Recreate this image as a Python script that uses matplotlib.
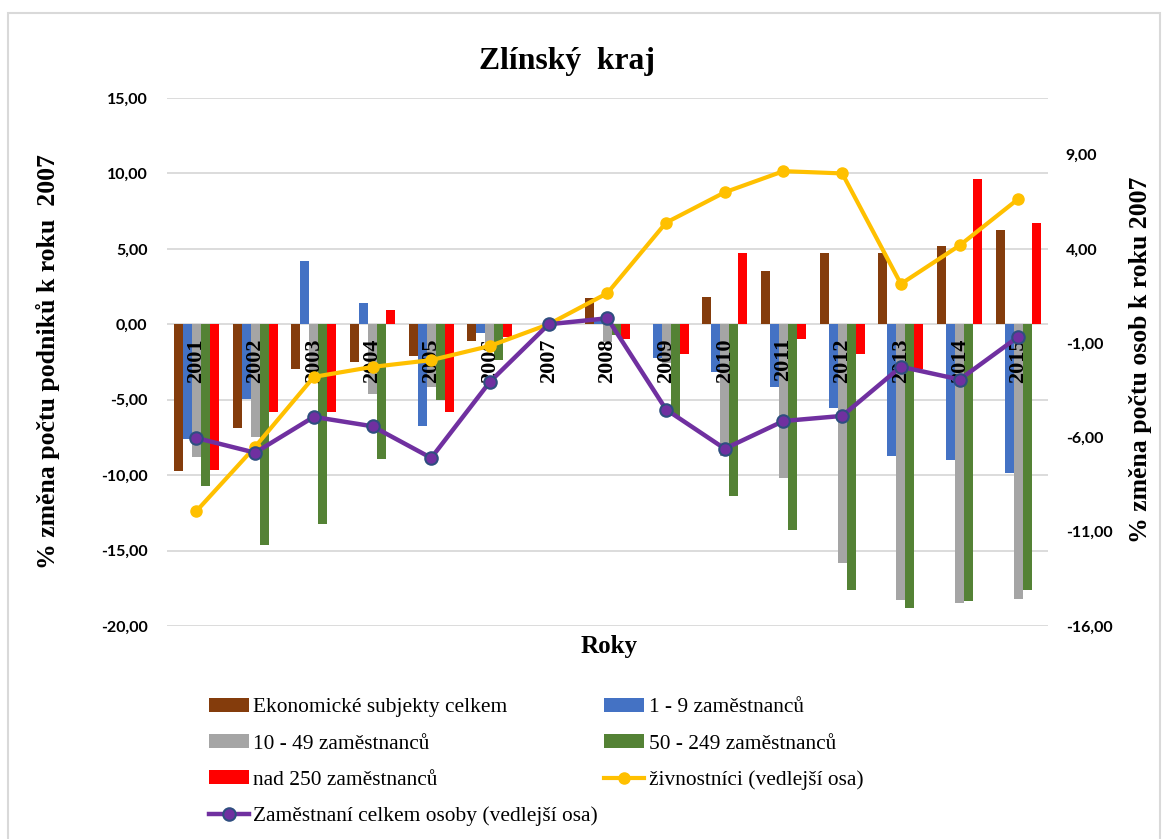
import numpy as np
import matplotlib.pyplot as plt
from matplotlib.patches import Rectangle
from matplotlib.ticker import FuncFormatter

# Data
roky = [2001, 2002, 2003, 2004, 2005, 2006, 2007, 2008,
        2009, 2010, 2011, 2012, 2013, 2014, 2015]
celkem = [-9.75, -6.89, -2.98, -2.52, -2.10, -1.08, 0, 1.76,
          0.0, 1.78, 3.55, 4.74, 4.70, 5.19, 6.25]
mikro = [-7.62, -4.93, 4.19, 1.43, -6.73, -0.55, 0, 0.30,
         -2.22, -3.14, -4.17, -5.56, -8.72, -9.03, -9.83]
male = [-8.81, -7.48, -3.00, -4.60, -4.15, -1.50, 0, -1.20,
        -2.60, -8.70, -10.20, -15.83, -18.26, -18.48, -18.19]
stredni = [-10.69, -14.62, -13.25, -8.94, -5.01, -2.40, 0, -0.70,
           -6.07, -11.37, -13.67, -17.64, -18.81, -18.33, -17.64]
velke = [-9.65, -5.79, -5.79, 0.95, -5.79, -0.85, 0, -0.96,
         -1.97, 4.74, -0.99, -1.97, -2.98, 9.60, 6.69]
zivnostnici = [-9.91, -6.50, -2.79, -2.26, -1.90, -1.15, 0, 1.65,
               5.39, 7.00, 8.12, 8.00, 2.14, 4.18, 6.65]
zamestnani = [-6.03, -6.81, -4.91, -5.41, -7.09, -3.05, 0, 0.32,
              -4.52, -6.60, -5.13, -4.86, -2.25, -2.93, -0.66]

serif = ["Liberation Serif", "DejaVu Serif"]
sans = ["Lato", "DejaVu Sans"]

fig = plt.figure(figsize=(11.68, 8.39), dpi=100)
ax = fig.add_axes([0.143, 0.2539, 0.754, 0.6293])
ax2 = ax.twinx()

x = np.arange(len(roky))
w = 0.153
serie = [
    (celkem, "#843C0C", "Ekonomické subjekty celkem"),
    (mikro, "#4472C4", "1 - 9 zaměstnanců"),
    (male, "#A5A5A5", "10 - 49 zaměstnanců"),
    (stredni, "#548235", "50 - 249 zaměstnanců"),
    (velke, "#FF0000", "nad 250 zaměstnanců"),
]
bars = []
for i, (vals, col, lab) in enumerate(serie):
    b = ax.bar(x + (i - 2) * w, vals, w, color=col, label=lab, zorder=2)
    bars.append(b)

ax.set_xlim(-0.5, len(roky) - 0.5)
ax.set_ylim(-20, 15)
ax.set_yticks(np.arange(-20, 16, 5))
ax.yaxis.set_major_formatter(FuncFormatter(lambda v, p: f"{v:.2f}".replace(".", ",")))
ax.grid(axis="y", color="#D9D9D9", linewidth=1.3, zorder=0)
ax.set_axisbelow(True)
ax.set_xticks([])
for s in ax.spines.values():
    s.set_visible(False)
for s in ax2.spines.values():
    s.set_visible(False)
ax.tick_params(axis="y", length=0, pad=14)
for t in ax.get_yticklabels():
    t.set_fontfamily(sans)
    t.set_fontweight("bold")
    t.set_fontsize(11.5)

# year labels sitting under the zero line
for xi, r in zip(x, roky):
    ax.annotate(str(r), (xi, 0), xytext=(0, -10), textcoords="offset points",
                rotation=90, ha="center", va="top", fontfamily=serif,
                fontweight="bold", fontsize=16, zorder=5)

l1, = ax2.plot(x, zivnostnici, color="#FFC000", lw=3, marker="o", ms=8,
               label="živnostníci (vedlejší osa)", zorder=3)
l2, = ax2.plot(x, zamestnani, color="#7030A0", lw=3.2, marker="o", ms=9,
               markerfacecolor="#7030A0", markeredgecolor="#2F4E80",
               markeredgewidth=1.5, label="Zaměstnaní celkem osoby (vedlejší osa)",
               zorder=4)
ax2.set_ylim(-16, 12)
ax2.set_yticks([-16, -11, -6, -1, 4, 9])
ax2.yaxis.set_major_formatter(FuncFormatter(lambda v, p: f"{v:.2f}".replace(".", ",")))
ax2.tick_params(axis="y", length=0, pad=13)
for t in ax2.get_yticklabels():
    t.set_fontfamily(sans)
    t.set_fontweight("bold")
    t.set_fontsize(11.5)

fig.text(567 / 1168, 1 - 62 / 839, "Zlínský  kraj", ha="center", va="center",
         fontfamily=serif, fontweight="bold", fontsize=22.8)
fig.text(609 / 1168, 1 - 646 / 839, "Roky", ha="center", va="center",
         fontfamily=serif, fontweight="bold", fontsize=18)
fig.text(48 / 1168, 1 - 362 / 839, "% změna počtu podniků k roku  2007",
         rotation=90, ha="center", va="center", fontfamily=serif,
         fontweight="bold", fontsize=18.5)
fig.text(1141 / 1168, 1 - 360 / 839, "% změna počtu osob k roku 2007",
         rotation=90, ha="center", va="center", fontfamily=serif,
         fontweight="bold", fontsize=18.5)

handles = [bars[0], bars[2], bars[4], l2, bars[1], bars[3], l1]
labels = [h.get_label() for h in handles]
fig.legend(handles, labels, loc="upper left", ncol=2,
           bbox_to_anchor=(209 / 1168, 1 - 698 / 839), frameon=False,
           prop={"family": serif, "size": 15.4}, handlelength=1.87,
           handleheight=0.6, handletextpad=0.2, labelspacing=0.79,
           columnspacing=0.3, borderaxespad=0, borderpad=0)

fig.add_artist(Rectangle((8 / 1168, -0.02), 1152 / 1168, 1.02 - 13 / 839,
                         transform=fig.transFigure, fill=False,
                         edgecolor="#D9D9D9", linewidth=1.5))

fig.savefig("out.png", dpi=100)
